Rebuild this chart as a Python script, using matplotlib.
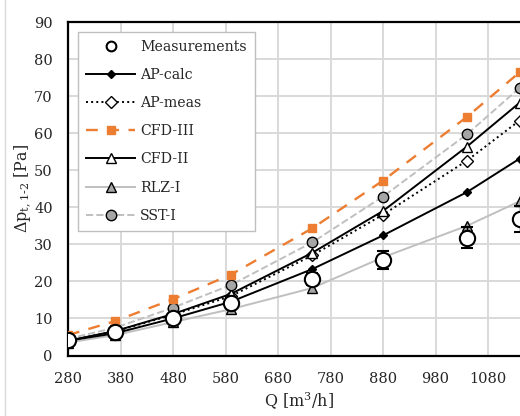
import matplotlib
matplotlib.use("Agg")
import matplotlib.pyplot as plt
from matplotlib.lines import Line2D

plt.rcParams['font.family'] = ['DejaVu Serif']
plt.rcParams['mathtext.fontset'] = 'dejavuserif'

Q = [280, 370, 480, 590, 745, 880, 1040, 1140]
meas = [4.2, 6.3, 10.2, 14.1, 20.7, 25.8, 31.8, 36.8]
meas_err = [0.5, 0.8, 1.0, 1.3, 1.6, 2.5, 2.8, 3.5]
ap_calc = [4.0, 6.0, 10.0, 14.5, 23.3, 32.4, 44.1, 53.1]
ap_meas = [4.0, 6.5, 11.0, 16.0, 27.0, 38.0, 52.6, 63.4]
cfd3 = [5.5, 9.3, 15.2, 21.8, 34.3, 47.2, 64.4, 76.4]
cfd2 = [4.0, 6.6, 11.2, 16.6, 27.7, 39.0, 56.4, 68.2]
rlz1 = [3.5, 5.5, 9.0, 12.5, 18.2, 26.5, 35.0, 41.6]
sst1 = [4.5, 7.5, 12.9, 19.0, 30.5, 42.9, 59.7, 72.2]

xticks = [280, 380, 480, 580, 680, 780, 880, 980, 1080]
yticks = [0, 10, 20, 30, 40, 50, 60, 70, 80, 90]

fig = plt.figure(figsize=(5.2, 4.16), dpi=100)
ax = fig.add_axes([68/520, (416-355.5)/416, 472.5/520, 333.5/416])
ax.set_xlim(280, 1180)
ax.set_ylim(0, 90)
ax.set_xticks(xticks)
ax.set_yticks(yticks)
ax.grid(True, color='#d9d9d9', linewidth=1.4)
ax.axvline(1180, color='#d9d9d9', lw=1.4, zorder=0)
ax.set_axisbelow(True)
for s in ['left', 'bottom', 'top', 'right']:
    ax.spines[s].set_color('black')
    ax.spines[s].set_linewidth(1.6)
ax.tick_params(length=0, labelsize=10.5, colors='#262626')
ax.tick_params(axis='x', pad=12)
ax.tick_params(axis='y', pad=11)

orange = '#ED7D31'
lgrey = '#bfbfbf'

ax.plot(Q, rlz1, '-', color=lgrey, lw=1.4, marker='^', ms=6.5,
        mfc='#a6a6a6', mec='black', mew=1.0, label='RLZ-I', zorder=3)
ax.plot(Q, ap_calc, '-', color='black', lw=1.4, marker='D', ms=4.5,
        mfc='black', mec='black', label='AP-calc', zorder=4)
ax.plot(Q, ap_meas, ':', color='black', lw=1.4, marker='D', ms=6,
        mfc='white', mec='black', mew=1.0, label='AP-meas', zorder=4)
ax.plot(Q, cfd2, '-', color='black', lw=1.4, marker='^', ms=7,
        mfc='white', mec='black', mew=1.0, label='CFD-II', zorder=4)
ax.plot(Q, sst1, '--', color=lgrey, lw=1.4, marker='o', ms=7.5,
        mfc='#a6a6a6', mec='black', mew=1.0, label='SST-I', zorder=4)
ax.plot(Q, cfd3, '--', color=orange, lw=1.7, dashes=(5, 4), marker='s', ms=5.5,
        mfc=orange, mec=orange, label='CFD-III', zorder=4)
ax.errorbar(Q, meas, yerr=meas_err, fmt='o', ms=11, mfc='white', mec='black',
            mew=1.5, ecolor='black', elinewidth=1.0, capsize=4, capthick=1.0,
            label='Measurements', zorder=6)

handles, labels = ax.get_legend_handles_labels()
order = ['Measurements', 'AP-calc', 'AP-meas', 'CFD-III', 'CFD-II', 'RLZ-I', 'SST-I']
hmap = dict(zip(labels, handles))
meas_h = Line2D([], [], ls='none', marker='o', ms=7, mfc='white', mec='black', mew=1.5)
hmap['Measurements'] = meas_h
leg = ax.legend([hmap[k] for k in order], order, loc='upper left',
                bbox_to_anchor=(10/472.5, 1 - 10/333.5), fontsize=10.2,
                frameon=True, fancybox=False, edgecolor='#bfbfbf', framealpha=1,
                labelspacing=1.0, handlelength=3.5, handletextpad=0.35,
                borderpad=0.55, borderaxespad=0)
leg.get_frame().set_linewidth(1.0)
for t in leg.get_texts():
    t.set_color('#262626')

ax.set_xlabel('Q [m$^3$/h]', fontsize=11.5, color='#262626')
ax.xaxis.set_label_coords((299-68)/472.5, (355.5-391)/333.5)
ax.set_ylabel(r'$\Delta$p$_{\mathregular{t,1\text{-}2}}$ [Pa]', fontsize=11.5, color='#262626')
ax.yaxis.set_label_coords((34-68)/472.5, (355.5-188)/333.5)

fig.add_artist(Line2D([5/520, 5/520], [0, 1], color='#d9d9d9', lw=1.0, transform=fig.transFigure))

fig.savefig('out.png', dpi=100)
